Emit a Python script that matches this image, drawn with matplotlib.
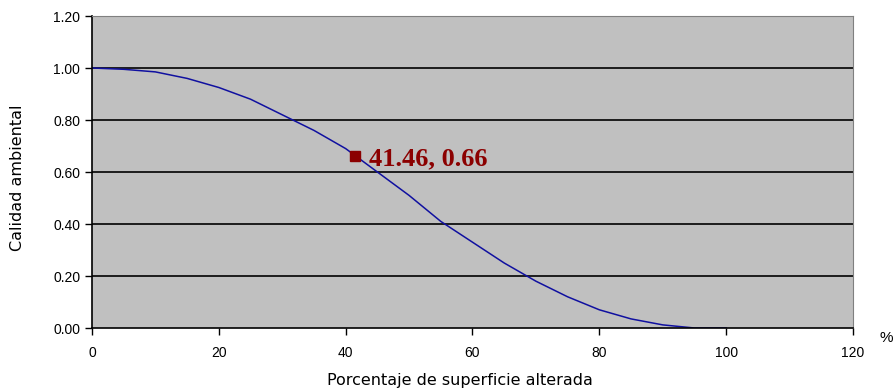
import matplotlib
matplotlib.use('Agg')
from matplotlib import pyplot as plt
import numpy as np

# curve
pct = [0, 5, 10, 15, 20, 25, 30, 35, 40, 45, 50, 55, 60, 65, 70, 75, 80, 85, 90, 95, 100]
quality = [1.00, 0.995, 0.985, 0.96, 0.925, 0.88, 0.82, 0.76, 0.69, 0.60, 0.51,
           0.41, 0.33, 0.25, 0.18, 0.12, 0.07, 0.035, 0.012, 0.0, 0.0]
point_x, point_y = 41.46, 0.66
x_ticks = [0, 20, 40, 60, 80, 100, 120]
y_ticks = [0.0, 0.2, 0.4, 0.6, 0.8, 1.0, 1.2]

plt.rcParams['font.family'] = ['Liberation Sans', 'DejaVu Sans']

fig = plt.figure(figsize=(8.95, 3.91), dpi=100)
ax = fig.add_axes([92/895, 63/391, 761/895, 312/391])
ax.set_facecolor('#c0c0c0')

for y in y_ticks[1:-1]:
	ax.axhline(y, color='black', lw=1.2, zorder=1)

ax.plot(pct, quality, color='#1010a0', lw=1.1, zorder=2)
ax.plot([point_x], [point_y], marker='s', color='#8b0000', ms=7.5, zorder=3)
ax.text(point_x + 2.2, point_y - 0.01, '%.2f, %.2f' % (point_x, point_y), color='#8b0000',
	fontsize=19, fontweight='bold', family='Liberation Serif', va='center', ha='left')

ax.set_xlim(0, 120)
ax.set_ylim(0, 1.2)
ax.set_xticks(x_ticks)
ax.set_yticks(y_ticks)
ax.set_yticklabels(['%.2f' % v for v in y_ticks])
ax.tick_params(direction='out', length=5, width=1, labelsize=10, colors='black')
ax.tick_params(axis='x', pad=8)

ax.spines['left'].set_color('black')
ax.spines['bottom'].set_color('black')
ax.spines['left'].set_linewidth(1.2)
ax.spines['bottom'].set_linewidth(1.2)
ax.spines['top'].set_color('#808080')
ax.spines['right'].set_color('#808080')

fig.text(460/895, 1 - 380/391, 'Porcentaje de superficie alterada', fontsize=11.5,
	family='DejaVu Sans', ha='center', va='center')
fig.text(18/895, 1 - 178/391, 'Calidad ambiental', fontsize=11.5, rotation=90,
	family='DejaVu Sans', ha='center', va='center')
fig.text(880/895, 1 - 338/391, '%', fontsize=11, ha='left', va='center')

fig.savefig('out.png', dpi=100)
